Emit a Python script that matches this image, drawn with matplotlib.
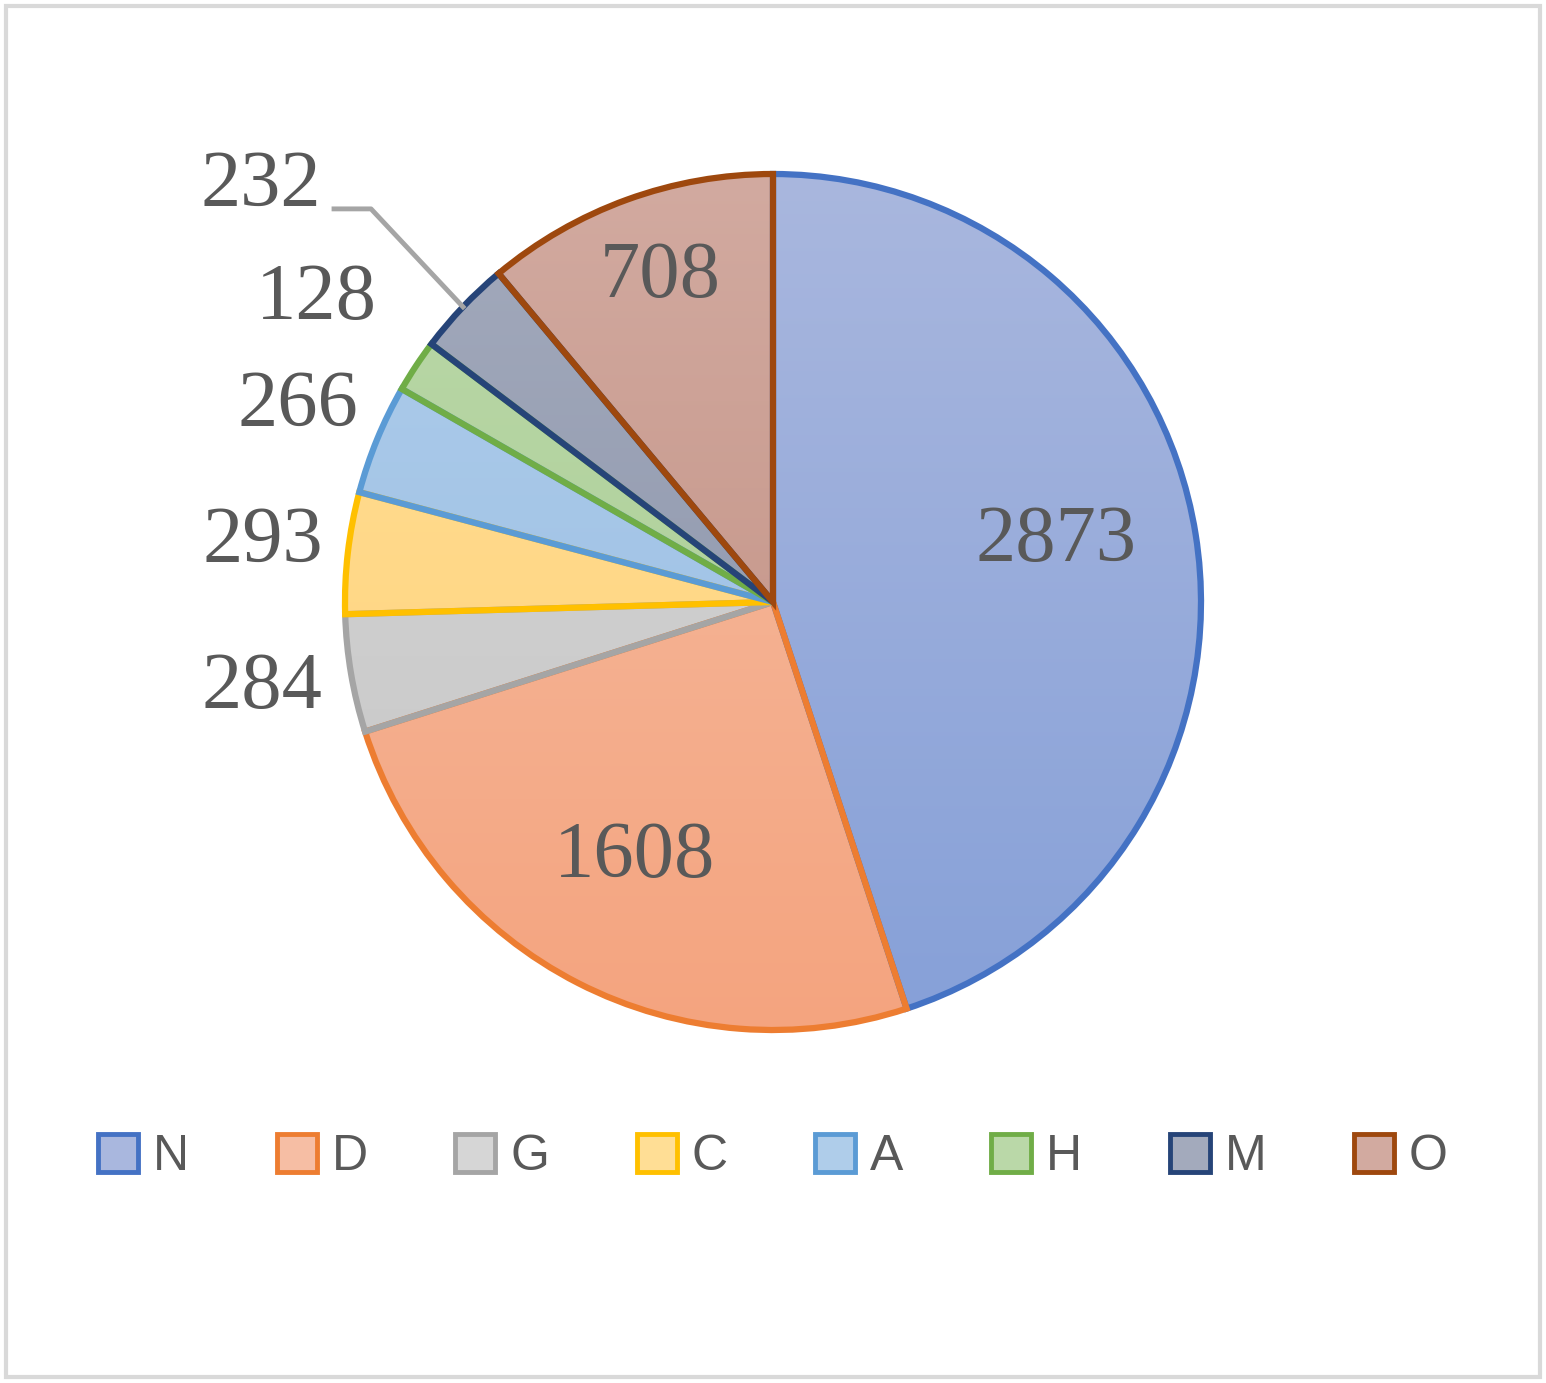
import numpy as np
import matplotlib
matplotlib.use("Agg")
import matplotlib.pyplot as plt
from matplotlib.colors import LinearSegmentedColormap
from matplotlib.patches import Rectangle

# data
labels = ["N", "D", "G", "C", "A", "H", "M", "O"]
values = [2873, 1608, 284, 293, 266, 128, 232, 708]
edge_colors = ["#4472C4", "#ED7D31", "#A5A5A5", "#FFC000", "#5B9BD5", "#70AD47", "#264478", "#9E480E"]
top_colors = ["#A9B7DE", "#F6BEA4", "#D6D6D6", "#FFDE95", "#AFCDEA", "#BAD8A8", "#A3AABC", "#D2AAA0"]
bot_colors = ["#86A0D8", "#F4A47F", "#C6C6C6", "#FFD27A", "#97BCE4", "#A9CC93", "#8891A8", "#BF8C7E"]
label_dist = [0.67, 0.71, 1.21, 1.2, 1.2, 1.28, None, 0.77]

W, H = 1546, 1383
fig = plt.figure(figsize=(W / 100, H / 100), dpi=100)
ax = fig.add_axes([0, 0, 1, 1])

cx, cy, r = 773, H - 602, 428
wedges, _ = ax.pie(values, startangle=90, counterclock=False, center=(cx, cy), radius=r,
                   colors=top_colors, frame=True,
                   wedgeprops=dict(linewidth=4.5, joinstyle="miter"))
ax.set_xlim(0, W)
ax.set_ylim(0, H)
ax.axis("off")

# vertical gradient inside each wedge
for w, tc, bc, ec in zip(wedges, top_colors, bot_colors, edge_colors):
    cmap = LinearSegmentedColormap.from_list("g", [bc, tc])
    grad = np.linspace(0, 1, 256).reshape(-1, 1)
    im = ax.imshow(grad, cmap=cmap, origin="lower", aspect="auto",
                   extent=(cx - r, cx + r, cy - r, cy + r), zorder=1)
    im.set_clip_path(w)
    w.set_facecolor("none")
    w.set_edgecolor(ec)
    w.set_zorder(2)

# value labels
txt_kw = dict(fontsize=58, family="Liberation Serif", color="#595959", va="center")
for w, v, d in zip(wedges, values, label_dist):
    mid = np.deg2rad((w.theta1 + w.theta2) / 2)
    if d is None:
        # label with leader line
        ex, ey = cx + r * np.cos(mid), cy + r * np.sin(mid)
        kx, ky = ex - 92, ey + 98
        ax.plot([ex, kx, kx - 37], [ey, ky, ky], color="#A5A5A5", lw=3.5, zorder=4)
        ax.text(kx - 50, ky + 22, str(v), ha="right", zorder=5, **txt_kw)
        continue
    x, y = cx + d * r * np.cos(mid), cy + d * r * np.sin(mid)
    if d < 1:
        y += 15
    ax.text(x, y, str(v), ha="center", zorder=5, **txt_kw)

# legend
handles = [Rectangle((0, 0), 1, 1, facecolor=t, edgecolor=e, lw=3.5)
           for t, e in zip(top_colors, edge_colors)]
leg = fig.legend(handles, labels, loc="center", bbox_to_anchor=(0.5, 1 - 1157 / H), ncol=8,
                 frameon=False, handlelength=0.8, handleheight=0.8,
                 columnspacing=1.75, handletextpad=0.3, labelcolor="#595959",
                 prop=dict(family="Liberation Sans", size=36))

fig.patches.append(Rectangle((6, 6), W - 12, H - 12, transform=None, fill=False,
                             edgecolor="#D9D9D9", lw=3))
fig.savefig("out.png", dpi=100)
